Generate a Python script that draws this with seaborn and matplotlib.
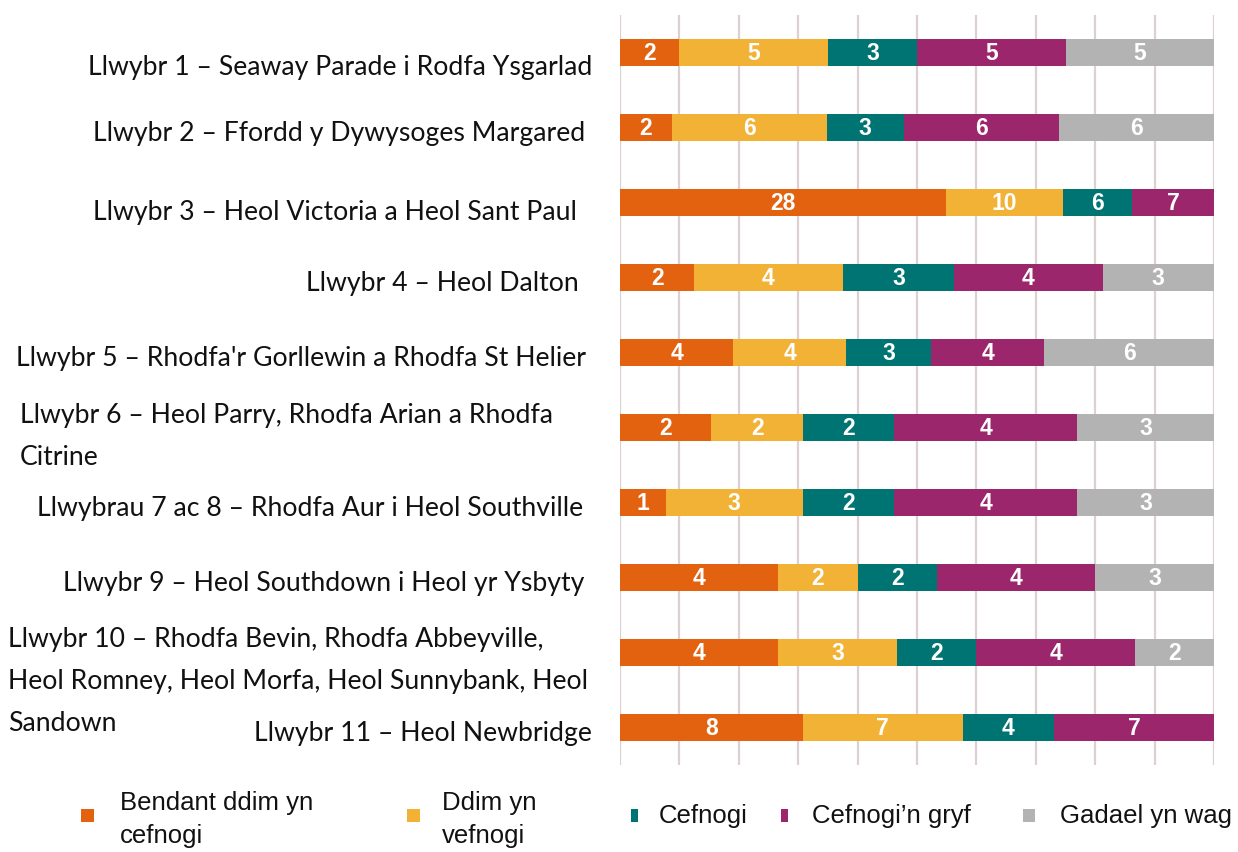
import matplotlib
matplotlib.use("Agg")
import matplotlib.pyplot as plt
from matplotlib.patches import Rectangle
import seaborn as sns
import pandas as pd
import numpy as np

# --- data ---
routes = [
    "Llwybr 1 – Seaway Parade i Rodfa Ysgarlad",
    "Llwybr 2 – Ffordd y Dywysoges Margared",
    "Llwybr 3 – Heol Victoria a Heol Sant Paul",
    "Llwybr 4 – Heol Dalton",
    "Llwybr 5 – Rhodfa'r Gorllewin a Rhodfa St Helier",
    "Llwybr 6 – Heol Parry, Rhodfa Arian a Rhodfa\nCitrine",
    "Llwybrau 7 ac 8 – Rhodfa Aur i Heol Southville",
    "Llwybr 9 – Heol Southdown i Heol yr Ysbyty",
    "Llwybr 10 – Rhodfa Bevin, Rhodfa Abbeyville,\nHeol Romney, Heol Morfa, Heol Sunnybank, Heol\nSandown",
    "Llwybr 11 – Heol Newbridge",
]
categories = ["Bendant ddim yn\ncefnogi", "Ddim yn\nvefnogi", "Cefnogi",
              "Cefnogi’n gryf", "Gadael yn wag"]
bendant = [2, 2, 28, 2, 4, 2, 1, 4, 4, 8]
ddim = [5, 6, 10, 4, 4, 2, 3, 2, 3, 7]
cefnogi = [3, 3, 6, 3, 3, 2, 2, 2, 2, 4]
cefnogi_gryf = [5, 6, 7, 4, 4, 4, 4, 4, 4, 7]
gadael = [5, 6, 0, 3, 6, 3, 3, 3, 2, 0]

colors = ["#E3620F", "#F2B236", "#007473", "#9B266B", "#B3B3B3"]

W, H = 1238, 852
fig = plt.figure(figsize=(W / 100, H / 100), dpi=100)
sns.set_style("white")
ax = fig.add_axes([620 / W, 1 - 765 / H, 594 / W, 750 / H])

vals = np.array([bendant, ddim, cefnogi, cefnogi_gryf, gadael], dtype=float)
pct = vals / vals.sum(axis=0) * 100
cum = np.cumsum(pct, axis=0)

# stacked bars: draw cumulative totals from the widest down
for k in range(len(categories) - 1, -1, -1):
    d = pd.DataFrame({"route": routes, "cum": cum[k]})
    sns.barplot(data=d, x="cum", y="route", color=colors[k], saturation=1,
                width=0.35, errorbar=None, linewidth=0, ax=ax)

for k in range(len(categories)):
    for i in range(len(routes)):
        if vals[k, i] == 0:
            continue
        ax.text(cum[k, i] - pct[k, i] / 2, i + 0.105, f"{int(vals[k, i])}",
                ha="center", va="baseline", color="white", fontsize=16.5,
                fontweight="bold", family="Liberation Sans")

ax.set_xlim(0, 100)
ax.set_xticks(range(0, 101, 10))
ax.xaxis.grid(True, color="#DDD0D0", linewidth=1.6)
ax.set_axisbelow(True)
ax.tick_params(length=0, labelbottom=False, labelleft=False)
ax.set_xlabel("")
ax.set_ylabel("")
for s in ax.spines.values():
    s.set_visible(False)

# row labels (Calibri-like), fitted to the reference width
probe = fig.text(0, 0, routes[0], fontsize=20, family="Lato")
rend = fig.canvas.get_renderer()
lab_size = 20 * 504 / probe.get_window_extent(rend).width
probe.remove()

# (x, first baseline, alignment) per row, in pixels
label_pos = [(592, 75, "right"), (585, 141, "right"), (577, 220, "right"),
             (579, 291, "right"), (586, 366, "right"), (20, 423, "left"),
             (583, 516, "right"), (584, 591, "right"), (8, 647, "left"),
             (592, 741, "right")]
for name, (x, y, ha) in zip(routes, label_pos):
    for j, line in enumerate(name.split("\n")):
        fig.text(x / W, 1 - (y + j * 42) / H, line, ha=ha, va="baseline",
                 fontsize=lab_size, family="Lato", color="#111111")

# legend
leg_marker = [(81, 13), (407, 13), (631, 7), (781, 7), (1023, 12)]
leg_text_x = [120, 442, 659, 812, 1060]
for k, cat in enumerate(categories):
    mx, mw = leg_marker[k]
    fig.add_artist(Rectangle((mx / W, 1 - 822 / H), mw / W, 13 / H,
                             transform=fig.transFigure, color=colors[k], lw=0))
    lines = cat.split("\n")
    y0 = 810 if len(lines) > 1 else 823
    for j, line in enumerate(lines):
        fig.text(leg_text_x[k] / W, 1 - (y0 + j * 33) / H, line, ha="left",
                 va="baseline", fontsize=18.5, family="Liberation Sans",
                 color="#111111")

fig.savefig("out.png", dpi=100)
